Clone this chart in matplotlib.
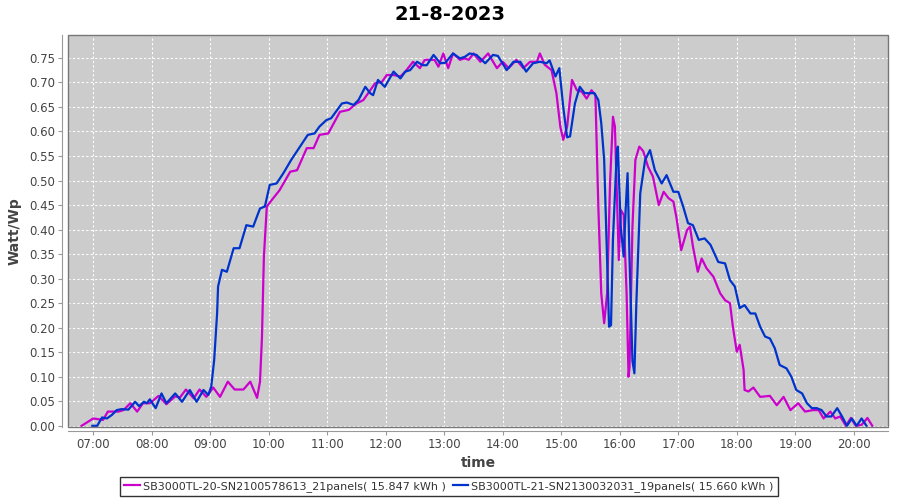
import matplotlib
matplotlib.use("Agg")
import matplotlib.pyplot as plt
from matplotlib.patches import Rectangle
from matplotlib.ticker import FixedLocator, FuncFormatter

title = "21-8-2023"
series_names = ["SB3000TL-20-SN2100578613_21panels( 15.847 kWh )",
                "SB3000TL-21-SN2130032031_19panels( 15.660 kWh )"]
series_colors = ["#CC00CC", "#0033CC"]

t_sb20 = ["06:48", "07:00", "07:10", "07:15", "07:26", "07:31", "07:38", "07:45", "07:51", "07:58",
          "08:07", "08:15", "08:24", "08:29", "08:35", "08:43", "08:49", "08:56", "09:03", "09:10",
          "09:18", "09:25", "09:34", "09:41", "09:48", "09:51", "09:53", "09:55", "09:58", "10:03",
          "10:11", "10:22", "10:29", "10:39", "10:46", "10:52", "11:01", "11:13", "11:22", "11:30",
          "11:37", "11:44", "11:49", "11:56", "12:01", "12:08", "12:15", "12:20", "12:28", "12:35",
          "12:40", "12:50", "12:54", "12:59", "13:04", "13:09", "13:16", "13:21", "13:25", "13:30",
          "13:37", "13:45", "13:54", "14:00", "14:06", "14:14", "14:21", "14:28", "14:35", "14:38",
          "14:43", "14:50", "14:55", "14:59", "15:02", "15:06", "15:11", "15:16", "15:21", "15:26",
          "15:31", "15:35", "15:38", "15:41", "15:44", "15:47", "15:50", "15:53", "15:55", "15:57",
          "15:59", "16:01", "16:04", "16:07", "16:09", "16:10", "16:13", "16:16", "16:20", "16:24",
          "16:29", "16:34", "16:40", "16:45", "16:50", "16:55", "16:58", "17:03", "17:09", "17:12",
          "17:15", "17:20", "17:24", "17:29", "17:36", "17:43", "17:48", "17:53", "17:56", "18:00",
          "18:03", "18:07", "18:08", "18:12", "18:17", "18:24", "18:34", "18:41", "18:48", "18:55",
          "19:03", "19:10", "19:18", "19:24", "19:29", "19:36", "19:41", "19:46", "19:52", "19:57",
          "20:02", "20:08", "20:14", "20:19"]
v_sb20 = [0.000, 0.015, 0.012, 0.029, 0.029, 0.032, 0.046, 0.029, 0.046, 0.046,
          0.061, 0.044, 0.060, 0.058, 0.074, 0.056, 0.074, 0.059, 0.078, 0.059,
          0.090, 0.074, 0.074, 0.090, 0.057, 0.090, 0.180, 0.345, 0.447, 0.460,
          0.480, 0.518, 0.521, 0.566, 0.566, 0.593, 0.596, 0.640, 0.644, 0.657,
          0.664, 0.684, 0.698, 0.701, 0.715, 0.715, 0.712, 0.722, 0.742, 0.729,
          0.746, 0.746, 0.732, 0.759, 0.729, 0.759, 0.746, 0.749, 0.746, 0.759,
          0.742, 0.759, 0.729, 0.742, 0.729, 0.746, 0.729, 0.742, 0.742, 0.759,
          0.736, 0.725, 0.678, 0.610, 0.583, 0.610, 0.705, 0.684, 0.681, 0.667,
          0.684, 0.674, 0.447, 0.270, 0.209, 0.270, 0.494, 0.630, 0.610, 0.474,
          0.338, 0.440, 0.430, 0.270, 0.100, 0.120, 0.406, 0.542, 0.569, 0.560,
          0.528, 0.508, 0.450, 0.477, 0.464, 0.457, 0.426, 0.358, 0.399, 0.406,
          0.366, 0.314, 0.341, 0.321, 0.304, 0.270, 0.256, 0.250, 0.202, 0.151,
          0.165, 0.114, 0.073, 0.070, 0.078, 0.059, 0.061, 0.042, 0.059, 0.032,
          0.046, 0.029, 0.032, 0.032, 0.015, 0.029, 0.015, 0.019, 0.000, 0.016,
          0.000, 0.002, 0.016, 0.000]

t_sb21 = ["06:59", "07:04", "07:09", "07:14", "07:19", "07:24", "07:29", "07:36", "07:43", "07:47",
          "07:52", "07:55", "07:58", "08:04", "08:10", "08:15", "08:24", "08:31", "08:39", "08:46",
          "08:53", "08:58", "09:01", "09:04", "09:07", "09:08", "09:12", "09:17", "09:24", "09:30",
          "09:37", "09:44", "09:51", "09:56", "10:01", "10:08", "10:15", "10:23", "10:32", "10:40",
          "10:47", "10:52", "10:59", "11:04", "11:15", "11:20", "11:27", "11:32", "11:39", "11:44",
          "11:47", "11:52", "11:59", "12:08", "12:15", "12:20", "12:25", "12:32", "12:38", "12:42",
          "12:49", "12:56", "13:01", "13:09", "13:16", "13:21", "13:26", "13:33", "13:42", "13:50",
          "13:55", "14:04", "14:11", "14:18", "14:24", "14:31", "14:38", "14:45", "14:48", "14:54",
          "14:58", "15:02", "15:06", "15:09", "15:14", "15:19", "15:24", "15:29", "15:34", "15:38",
          "15:41", "15:44", "15:47", "15:49", "15:51", "15:53", "15:57", "15:58", "16:01", "16:04",
          "16:06", "16:08", "16:10", "16:13", "16:15", "16:17", "16:21", "16:26", "16:31", "16:36",
          "16:43", "16:48", "16:55", "17:00", "17:05", "17:10", "17:15", "17:21", "17:27", "17:33",
          "17:41", "17:48", "17:53", "17:58", "18:03", "18:08", "18:14", "18:19", "18:24", "18:29",
          "18:34", "18:39", "18:44", "18:51", "18:56", "19:01", "19:07", "19:12", "19:17", "19:22",
          "19:27", "19:32", "19:37", "19:43", "19:48", "19:53", "19:58", "20:03", "20:08", "20:13"]
v_sb21 = [0.000, 0.000, 0.017, 0.015, 0.022, 0.032, 0.034, 0.033, 0.049, 0.040,
          0.049, 0.046, 0.054, 0.036, 0.066, 0.046, 0.066, 0.049, 0.073, 0.049,
          0.073, 0.063, 0.080, 0.134, 0.229, 0.284, 0.318, 0.314, 0.362, 0.362,
          0.409, 0.406, 0.443, 0.447, 0.491, 0.494, 0.515, 0.542, 0.569, 0.593,
          0.596, 0.610, 0.623, 0.627, 0.657, 0.659, 0.654, 0.664, 0.691, 0.678,
          0.674, 0.705, 0.691, 0.722, 0.708, 0.722, 0.725, 0.742, 0.735, 0.735,
          0.756, 0.739, 0.740, 0.759, 0.749, 0.752, 0.759, 0.756, 0.739, 0.756,
          0.754, 0.725, 0.742, 0.742, 0.722, 0.739, 0.742, 0.739, 0.745, 0.712,
          0.729, 0.650, 0.588, 0.590, 0.657, 0.691, 0.678, 0.678, 0.678, 0.664,
          0.617, 0.542, 0.338, 0.202, 0.205, 0.380, 0.560, 0.569, 0.406, 0.345,
          0.440, 0.515, 0.340, 0.132, 0.107, 0.250, 0.474, 0.542, 0.562, 0.521,
          0.494, 0.511, 0.477, 0.477, 0.447, 0.413, 0.409, 0.379, 0.382, 0.369,
          0.334, 0.331, 0.297, 0.284, 0.240, 0.246, 0.229, 0.229, 0.202, 0.182,
          0.178, 0.158, 0.124, 0.117, 0.100, 0.073, 0.066, 0.046, 0.036, 0.036,
          0.032, 0.019, 0.019, 0.036, 0.019, 0.000, 0.015, 0.000, 0.015, 0.000]

x_tick_hours = list(range(7, 21))
y_ticks = [i * 0.05 for i in range(16)]


def to_hours(s):
    h, m = s.split(":")
    return int(h) + int(m) / 60.0


plt.rcParams['font.family'] = ['DejaVu Sans']

fig = plt.figure(figsize=(9, 5), dpi=100)
fig.patch.set_facecolor("white")
W, H = 900, 500
left, right, top, bottom = 68, 888, 35, 426.5
ax = fig.add_axes([left / W, 1 - bottom / H, (right - left) / W, (bottom - top) / H])
ax.set_facecolor("#CCCCCC")

for ts, vs, name, col in [(t_sb20, v_sb20, series_names[0], series_colors[0]),
                          (t_sb21, v_sb21, series_names[1], series_colors[1])]:
    ax.plot([to_hours(t) for t in ts], vs, color=col, lw=1.6, label=name,
            solid_joinstyle="round", zorder=3)

ax.set_xlim(6.568, 20.585)
ax.set_ylim(-0.0014, 0.7966)
ax.xaxis.set_major_locator(FixedLocator(x_tick_hours))
ax.xaxis.set_major_formatter(FuncFormatter(lambda v, p: "%02d:00" % int(round(v))))
ax.yaxis.set_major_locator(FixedLocator(y_ticks))
ax.yaxis.set_major_formatter(FuncFormatter(lambda v, p: "%.2f" % v))

ax.grid(True, color="white", lw=0.8, ls=(0, (2, 2)))
ax.set_axisbelow(True)

for s in ["top", "right"]:
    ax.spines[s].set_visible(False)
ax.spines["left"].set_position(("outward", 4))
ax.spines["bottom"].set_position(("outward", 3))
ax.spines["left"].set_color("#999999")
ax.spines["bottom"].set_color("#999999")
ax.add_patch(Rectangle((0, 0), 1, 1, transform=ax.transAxes, fill=False,
                       edgecolor="#777777", lw=1.0, clip_on=False, zorder=4))

ax.tick_params(axis="both", direction="out", length=3, width=0.8, color="#999999",
               labelsize=8.5, labelcolor="#444444", pad=2)

ax.set_xlabel("time", fontsize=10, fontweight="bold", color="#444444", labelpad=4)
ax.set_ylabel("Watt/Wp", fontsize=10, fontweight="bold", color="#444444", labelpad=6)

fig.text(0.5, 1 - 14 / H, title, ha="center", va="center", fontsize=14, fontweight="bold")

leg = fig.legend(loc="upper center", bbox_to_anchor=(449 / W, 1 - 477 / H), ncol=2,
                 fontsize=8, frameon=True, fancybox=False, edgecolor="black",
                 handlelength=1.4, handletextpad=0.3, columnspacing=0.6,
                 borderpad=0.35, borderaxespad=0)
leg.get_frame().set_linewidth(1.0)
for t in leg.get_texts():
    t.set_color("#333333")

fig.savefig("out.png", dpi=100)
